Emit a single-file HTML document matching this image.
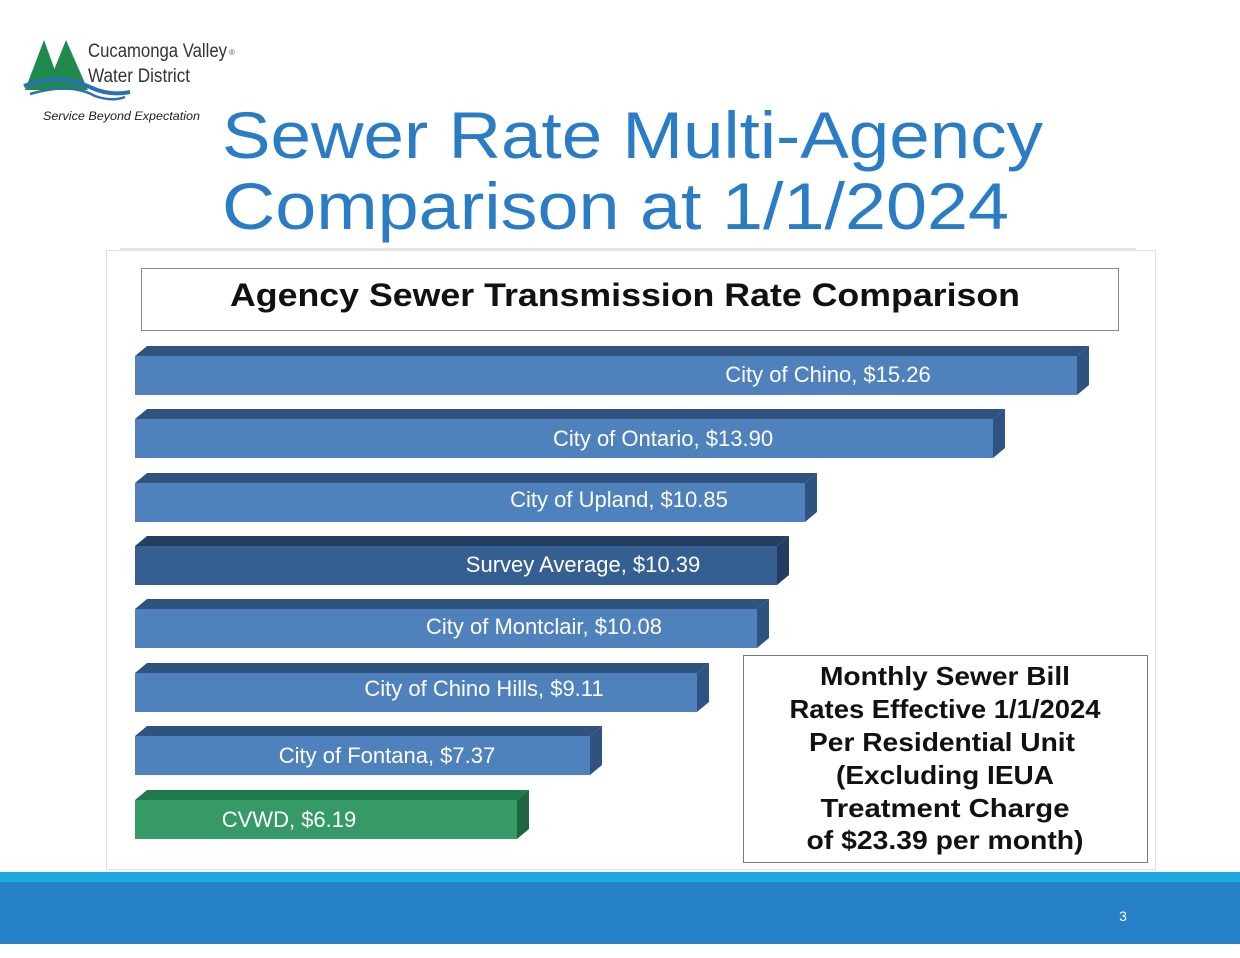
<!DOCTYPE html>
<html><head><meta charset="utf-8"><style>
body{margin:0;width:1240px;height:958px;background:#fff;overflow:hidden;position:relative;font-family:"Liberation Sans",sans-serif}
</style></head><body>
<svg width="1240" height="958" viewBox="0 0 1240 958" xmlns="http://www.w3.org/2000/svg" style="position:absolute;left:0;top:0">
<!-- logo -->
<polygon points="25,90 44,40 62,90" fill="#1f8a4c"/>
<polygon points="46,90 66,40 88,90" fill="#1f8a4c"/>
<path d="M24,86 Q60,72 92,88 Q110,96 130,92" stroke="#2a6fb5" stroke-width="4" fill="none"/>
<path d="M30,94 Q70,82 95,96 Q112,102 125,97" stroke="#2a6fb5" stroke-width="2.5" fill="none"/>
<text x="88" y="57" font-size="19" fill="#333" textLength="139" lengthAdjust="spacingAndGlyphs">Cucamonga Valley</text>
<text x="229" y="55" font-size="8" fill="#555">®</text>
<text x="88" y="82" font-size="19" fill="#333" textLength="102" lengthAdjust="spacingAndGlyphs">Water District</text>
<text x="43" y="120" font-size="12" font-style="italic" fill="#222" textLength="157" lengthAdjust="spacingAndGlyphs">Service Beyond Expectation</text>
<!-- title -->
<text x="222" y="158" font-size="66" fill="#2a7dc4" textLength="821" lengthAdjust="spacingAndGlyphs">Sewer Rate Multi-Agency</text>
<text x="222" y="229" font-size="66" fill="#2a7dc4" textLength="787" lengthAdjust="spacingAndGlyphs">Comparison at 1/1/2024</text>
<line x1="120" y1="249" x2="1136" y2="249" stroke="#ccc" stroke-width="1"/>
<!-- chart frame -->
<rect x="106.5" y="250.5" width="1049" height="619" fill="#fff" stroke="#e0e0e0"/>
<rect x="141.5" y="268.5" width="977" height="62" fill="#fff" stroke="#888"/>
<text x="230" y="306" font-size="32" font-weight="bold" fill="#111" textLength="790" lengthAdjust="spacingAndGlyphs">Agency Sewer Transmission Rate Comparison</text>
<g font-size="22" fill="#fff" text-anchor="middle">
<polygon points="135,356 147,346 1089,346 1077,356" fill="#30527f"/><rect x="135" y="356" width="942" height="39" fill="#4f81bd"/><polygon points="1077,356 1089,346 1089,385 1077,395" fill="#2f5381"/><text x="828" y="382">City of Chino,  $15.26</text>
<polygon points="135,419 147,409 1005,409 993,419" fill="#30527f"/><rect x="135" y="419" width="858" height="39" fill="#4f81bd"/><polygon points="993,419 1005,409 1005,448 993,458" fill="#2f5381"/><text x="663" y="446">City of Ontario,  $13.90</text>
<polygon points="135,483 147,473 817,473 805,483" fill="#30527f"/><rect x="135" y="483" width="670" height="39" fill="#4f81bd"/><polygon points="805,483 817,473 817,512 805,522" fill="#2f5381"/><text x="619" y="507">City of Upland,  $10.85</text>
<polygon points="135,546 147,536 789,536 777,546" fill="#233f63"/><rect x="135" y="546" width="642" height="39" fill="#365f91"/><polygon points="777,546 789,536 789,575 777,585" fill="#223d61"/><text x="583" y="572">Survey Average,  $10.39</text>
<polygon points="135,609 147,599 769,599 757,609" fill="#30527f"/><rect x="135" y="609" width="622" height="39" fill="#4f81bd"/><polygon points="757,609 769,599 769,638 757,648" fill="#2f5381"/><text x="544" y="634">City of Montclair,  $10.08</text>
<polygon points="135,673 147,663 709,663 697,673" fill="#30527f"/><rect x="135" y="673" width="562" height="39" fill="#4f81bd"/><polygon points="697,673 709,663 709,702 697,712" fill="#2f5381"/><text x="484" y="696">City of Chino Hills,  $9.11</text>
<polygon points="135,736 147,726 602,726 590,736" fill="#30527f"/><rect x="135" y="736" width="455" height="39" fill="#4f81bd"/><polygon points="590,736 602,726 602,765 590,775" fill="#2f5381"/><text x="387" y="763">City of Fontana,  $7.37</text>
<polygon points="135,800 147,790 529,790 517,800" fill="#217a4d"/><rect x="135" y="800" width="382" height="39" fill="#359a66"/><polygon points="517,800 529,790 529,829 517,839" fill="#1f6640"/><text x="289" y="827">CVWD,  $6.19</text>
</g>
<rect x="743.5" y="655.5" width="404" height="207" fill="#fff" stroke="#777"/>
<g font-size="26" font-weight="bold" text-anchor="middle" fill="#111">
<text x="945" y="685" textLength="250" lengthAdjust="spacingAndGlyphs">Monthly Sewer Bill</text>
<text x="945" y="718" textLength="311" lengthAdjust="spacingAndGlyphs">Rates Effective 1/1/2024</text>
<text x="942" y="751" textLength="266" lengthAdjust="spacingAndGlyphs">Per Residential Unit</text>
<text x="945" y="784" textLength="218" lengthAdjust="spacingAndGlyphs">(Excluding IEUA</text>
<text x="945" y="817" textLength="249" lengthAdjust="spacingAndGlyphs">Treatment Charge</text>
<text x="945" y="849" textLength="277" lengthAdjust="spacingAndGlyphs">of $23.39 per month)</text>
</g>
<!-- footer -->
<rect x="0" y="872" width="1240" height="10" fill="#1fa8df"/>
<rect x="0" y="882" width="1240" height="62" fill="#2681c6"/>
<text x="1123" y="921" font-size="14" fill="#fff" text-anchor="middle">3</text>
</svg>
</body></html>
